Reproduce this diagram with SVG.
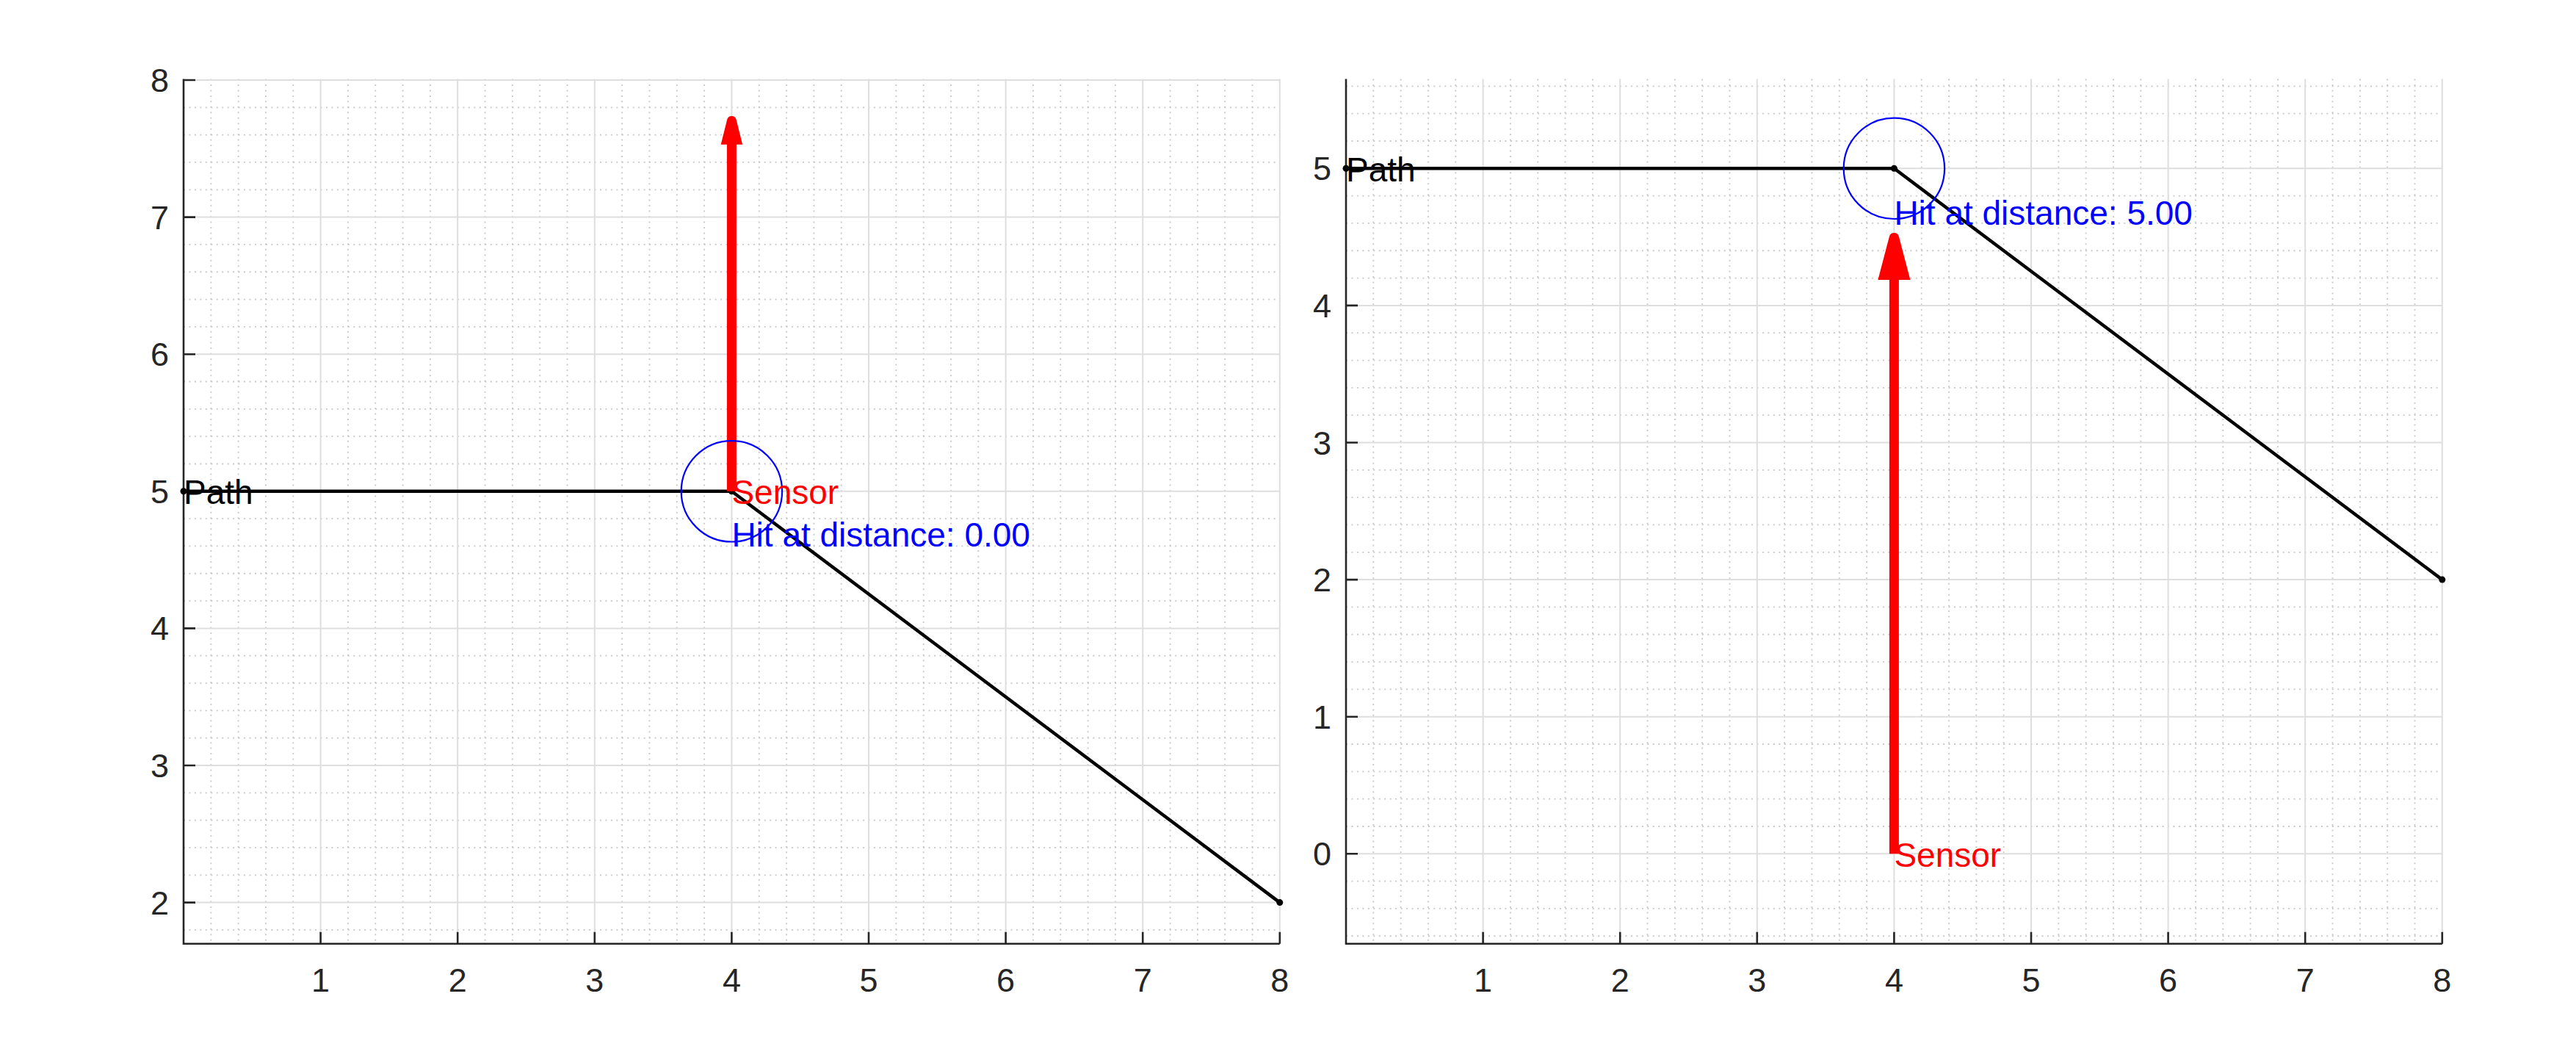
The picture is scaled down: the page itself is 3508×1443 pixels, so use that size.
<svg xmlns="http://www.w3.org/2000/svg" xmlns:xlink="http://www.w3.org/1999/xlink" width="3508" height="1443" viewBox="0 0 3508 1443">
<style>
.minor{fill:none;stroke:#c8c8c8;stroke-width:1.8;stroke-dasharray:2 5.46}
.major{fill:none;stroke:#dedede;stroke-width:2}
.axis{fill:none;stroke:#262626;stroke-width:2.6}
.tick{font-family:"Liberation Sans",Arial,sans-serif;font-size:45px;fill:#262626}
.lbl{font-family:"Liberation Sans",Arial,sans-serif;font-size:46px}
.path{fill:none;stroke:#000;stroke-width:4.5;stroke-linejoin:round}
.dot{fill:#000}
.hit{fill:none;stroke:#0000ff;stroke-width:2.2}
.ray{stroke:#ff0000;stroke-width:13;fill:none}
.head{fill:#ff0000}
</style>
<defs>
<path id="vminor" class="minor" d="M37.32 107.5V1284.7M74.64 107.5V1284.7M111.96 107.5V1284.7M149.28 107.5V1284.7M223.92 107.5V1284.7M261.24 107.5V1284.7M298.56 107.5V1284.7M335.88 107.5V1284.7M410.52 107.5V1284.7M447.84 107.5V1284.7M485.16 107.5V1284.7M522.48 107.5V1284.7M597.12 107.5V1284.7M634.44 107.5V1284.7M671.76 107.5V1284.7M709.08 107.5V1284.7M783.72 107.5V1284.7M821.04 107.5V1284.7M858.36 107.5V1284.7M895.68 107.5V1284.7M970.32 107.5V1284.7M1007.64 107.5V1284.7M1044.96 107.5V1284.7M1082.28 107.5V1284.7M1156.92 107.5V1284.7M1194.24 107.5V1284.7M1231.56 107.5V1284.7M1268.88 107.5V1284.7M1343.52 107.5V1284.7M1380.84 107.5V1284.7M1418.16 107.5V1284.7M1455.48 107.5V1284.7"/>
<path id="vmajor" class="major" d="M186.6 107.5V1284.7M373.2 107.5V1284.7M559.8 107.5V1284.7M746.4 107.5V1284.7M933 107.5V1284.7M1119.6 107.5V1284.7M1306.2 107.5V1284.7M1492.8 107.5V1284.7"/>
<path id="xticks" class="axis" d="M186.6 1284.7V1268.7M373.2 1284.7V1268.7M559.8 1284.7V1268.7M746.4 1284.7V1268.7M933 1284.7V1268.7M1119.6 1284.7V1268.7M1306.2 1284.7V1268.7M1492.8 1284.7V1268.7"/>
</defs>
<rect width="3508" height="1443" fill="#ffffff"/>

<g id="axes-left">
  <use xlink:href="#vminor" href="#vminor" x="250"/>
  <path class="minor" d="M250 146.32H1742.8M250 183.64H1742.8M250 220.96H1742.8M250 258.28H1742.8M250 332.92H1742.8M250 370.24H1742.8M250 407.56H1742.8M250 444.88H1742.8M250 519.52H1742.8M250 556.84H1742.8M250 594.16H1742.8M250 631.48H1742.8M250 706.12H1742.8M250 743.44H1742.8M250 780.76H1742.8M250 818.08H1742.8M250 892.72H1742.8M250 930.04H1742.8M250 967.36H1742.8M250 1004.68H1742.8M250 1079.32H1742.8M250 1116.64H1742.8M250 1153.96H1742.8M250 1191.28H1742.8M250 1265.92H1742.8"/>
  <use xlink:href="#vmajor" href="#vmajor" x="250"/>
  <path class="major" d="M250 109H1742.8M250 295.6H1742.8M250 482.2H1742.8M250 668.8H1742.8M250 855.4H1742.8M250 1042H1742.8M250 1228.6H1742.8"/>
  <path class="axis" d="M250 107.5V1284.7H1742.8M250 109H266M250 295.6H266M250 482.2H266M250 668.8H266M250 855.4H266M250 1042H266M250 1228.6H266"/>
  <use xlink:href="#xticks" href="#xticks" x="250"/>
  <g class="tick" text-anchor="end">
    <text x="230" y="125">8</text>
    <text x="230" y="311.6">7</text>
    <text x="230" y="498.2">6</text>
    <text x="230" y="684.8">5</text>
    <text x="230" y="871.4">4</text>
    <text x="230" y="1058">3</text>
    <text x="230" y="1244.6">2</text>
  </g>
  <g class="tick" text-anchor="middle">
    <text x="436.6" y="1350">1</text>
    <text x="623.2" y="1350">2</text>
    <text x="809.8" y="1350">3</text>
    <text x="996.4" y="1350">4</text>
    <text x="1183" y="1350">5</text>
    <text x="1369.6" y="1350">6</text>
    <text x="1556.2" y="1350">7</text>
    <text x="1742.8" y="1350">8</text>
  </g>
  <g id="path-left">
    <polyline class="path" points="250,668.8 996.4,668.8 1742.8,1228.6"/>
    <circle class="dot" cx="250" cy="668.8" r="4.5"/>
    <circle class="dot" cx="996.4" cy="668.8" r="4.5"/>
    <circle class="dot" cx="1742.8" cy="1228.6" r="4.5"/>
  </g>
  <g id="ray-left">
    <line class="ray" x1="996.4" y1="668.8" x2="996.4" y2="195"/>
    <path class="head" d="M981.7 196.7L990.1 163A6.5 6.5 0 0 1 1002.7 163L1011.1 196.7Z"/>
  </g>
  <circle id="hit-left" class="hit" cx="996.4" cy="668.8" r="68.7"/>
  <text class="lbl" x="250" y="686.3" fill="#000">Path</text>
  <text class="lbl" x="996.4" y="686.3" fill="#ff0000">Sensor</text>
  <text class="lbl" x="996.4" y="744" fill="#0000ff">Hit at distance: 0.00</text>
</g>

<g id="axes-right">
  <use xlink:href="#vminor" href="#vminor" x="1833"/>
  <path class="minor" d="M1833 117.34H3325.8M1833 154.66H3325.8M1833 191.98H3325.8M1833 266.62H3325.8M1833 303.94H3325.8M1833 341.26H3325.8M1833 378.58H3325.8M1833 453.22H3325.8M1833 490.54H3325.8M1833 527.86H3325.8M1833 565.18H3325.8M1833 639.82H3325.8M1833 677.14H3325.8M1833 714.46H3325.8M1833 751.78H3325.8M1833 826.42H3325.8M1833 863.74H3325.8M1833 901.06H3325.8M1833 938.38H3325.8M1833 1013.02H3325.8M1833 1050.34H3325.8M1833 1087.66H3325.8M1833 1124.98H3325.8M1833 1199.62H3325.8M1833 1236.94H3325.8M1833 1274.26H3325.8"/>
  <use xlink:href="#vmajor" href="#vmajor" x="1833"/>
  <path class="major" d="M1833 229.3H3325.8M1833 415.9H3325.8M1833 602.5H3325.8M1833 789.1H3325.8M1833 975.7H3325.8M1833 1162.3H3325.8"/>
  <path class="axis" d="M1833 107.5V1284.7H3325.8M1833 229.3H1849M1833 415.9H1849M1833 602.5H1849M1833 789.1H1849M1833 975.7H1849M1833 1162.3H1849"/>
  <use xlink:href="#xticks" href="#xticks" x="1833"/>
  <g class="tick" text-anchor="end">
    <text x="1813" y="245.3">5</text>
    <text x="1813" y="431.9">4</text>
    <text x="1813" y="618.5">3</text>
    <text x="1813" y="805.1">2</text>
    <text x="1813" y="991.7">1</text>
    <text x="1813" y="1178.3">0</text>
  </g>
  <g class="tick" text-anchor="middle">
    <text x="2019.6" y="1350">1</text>
    <text x="2206.2" y="1350">2</text>
    <text x="2392.8" y="1350">3</text>
    <text x="2579.4" y="1350">4</text>
    <text x="2766" y="1350">5</text>
    <text x="2952.6" y="1350">6</text>
    <text x="3139.2" y="1350">7</text>
    <text x="3325.8" y="1350">8</text>
  </g>
  <g id="path-right">
    <polyline class="path" points="1833,229.3 2579.4,229.3 3325.8,789.1"/>
    <circle class="dot" cx="1833" cy="229.3" r="4.5"/>
    <circle class="dot" cx="2579.4" cy="229.3" r="4.5"/>
    <circle class="dot" cx="3325.8" cy="789.1" r="4.5"/>
  </g>
  <g id="ray-right">
    <line class="ray" x1="2579.4" y1="1162.3" x2="2579.4" y2="378"/>
    <path class="head" d="M2557.4 381L2572.9 322A6.7 6.7 0 0 1 2585.9 322L2601.4 381Z"/>
  </g>
  <circle id="hit-right" class="hit" cx="2579.4" cy="229.3" r="68.7"/>
  <text class="lbl" x="1833" y="246.8" fill="#000">Path</text>
  <text class="lbl" x="2579.4" y="1179.8" fill="#ff0000">Sensor</text>
  <text class="lbl" x="2579.4" y="305.5" fill="#0000ff">Hit at distance: 5.00</text>
</g>
</svg>
